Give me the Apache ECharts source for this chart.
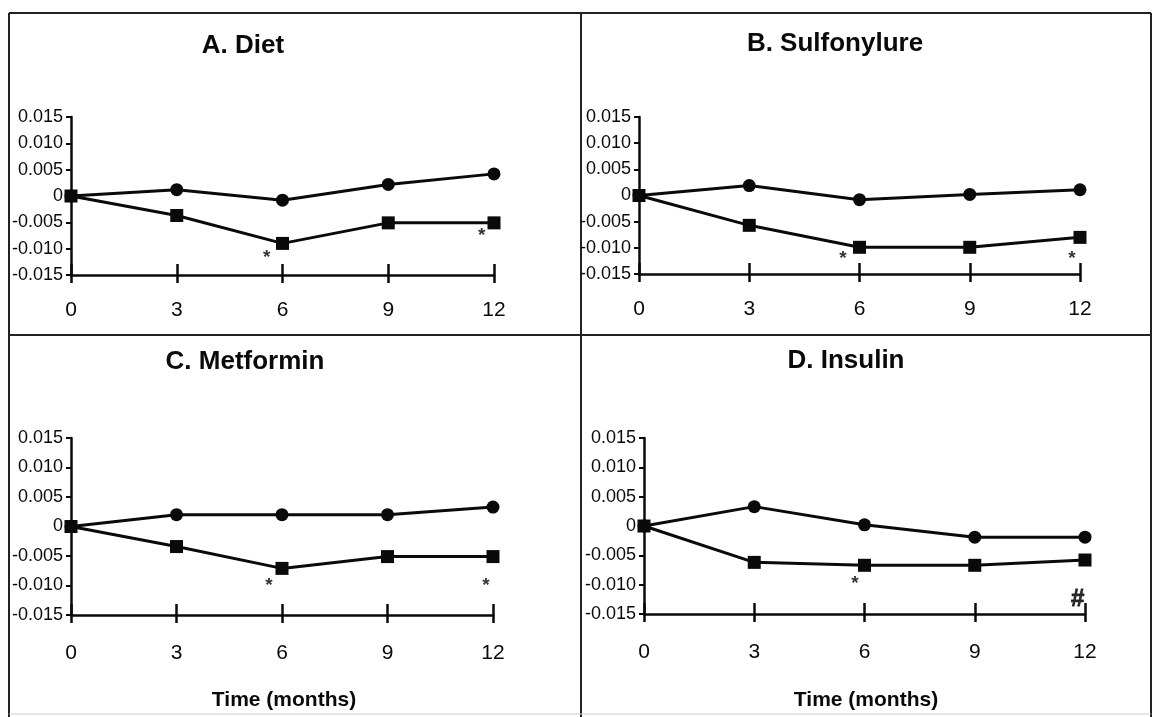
<!DOCTYPE html>
<html>
<head>
<meta charset="utf-8">
<script src="https://cdn.jsdelivr.net/npm/echarts@6/dist/echarts.min.js"></script>
<style>
html,body{margin:0;padding:0;background:#fff;}
#chart{width:1153px;height:717px;}
</style>
</head>
<body>
<div id="chart"></div>
<script>
// ---- data ----
const months = [0, 3, 6, 9, 12];
const xTickLabels = ['0', '3', '6', '9', '12'];
const yTickValues = [-0.015, -0.010, -0.005, 0, 0.005, 0.010, 0.015];
const yTickLabels = ['-0.015', '-0.010', '-0.005', '0', '0.005', '0.010', '0.015'];
const panelTitles = ['A. Diet', 'B. Sulfonylure', 'C. Metformin', 'D. Insulin'];
const xAxisTitle = 'Time (months)';

const dietCircle = [0, 0.0012, -0.0008, 0.0022, 0.0042];
const dietSquare = [0, -0.0037, -0.0090, -0.0051, -0.0051];
const sulfCircle = [0, 0.0019, -0.0008, 0.0002, 0.0011];
const sulfSquare = [0, -0.0057, -0.0099, -0.0099, -0.0080];
const metCircle = [0, 0.0020, 0.0020, 0.0020, 0.0033];
const metSquare = [0, -0.0034, -0.0071, -0.0051, -0.0051];
const insCircle = [0, 0.0033, 0.0002, -0.0019, -0.0019];
const insSquare = [0, -0.0062, -0.0067, -0.0067, -0.0058];

// annotations: [month, value, mark]
const notesA = [[5.55, -0.0118, '*'], [11.65, -0.0076, '*']];
const notesB = [[5.55, -0.0120, '*'], [11.78, -0.0120, '*']];
const notesC = [[5.63, -0.0100, '*'], [11.8, -0.0100, '*']];
const notesD = [[5.74, -0.0099, '*'], [11.8, -0.0125, '#']];

const circles = [dietCircle, sulfCircle, metCircle, insCircle];
const squares = [dietSquare, sulfSquare, metSquare, insSquare];
const notes = [notesA, notesB, notesC, notesD];

// ---- layout ----
const INK = '#0a0a0a';
const FONT = 'Liberation Sans, Arial, Helvetica, sans-serif';
const grids = [
  {left: 71, top: 117, width: 423, height: 158},
  {left: 639, top: 117, width: 441, height: 157},
  {left: 71, top: 438, width: 422, height: 177},
  {left: 644, top: 438, width: 441, height: 176}
];
const xLabelMargin = [25, 25, 28, 28];
const titlePos = [
  {left: 238, top: 28}, {left: 830, top: 26},
  {left: 240, top: 344}, {left: 841, top: 343}
];

const chart = echarts.init(document.getElementById('chart'), null, {renderer: 'canvas'});

const xAxes = [], yAxes = [], series = [], titles = [];
grids.forEach((g, i) => {
  const common = {
    type: 'value', gridIndex: i, min: 0, max: 12, interval: 3,
    splitLine: {show: false}
  };
  xAxes.push(Object.assign({}, common, {
    position: 'bottom',
    axisLine: {show: true, onZero: false, lineStyle: {color: INK, width: 2.5}},
    axisTick: {show: true, inside: true, length: 11, lineStyle: {color: INK, width: 2.5}},
    axisLabel: {
      show: true, margin: xLabelMargin[i], color: INK, fontSize: 21, fontFamily: FONT,
      formatter: v => xTickLabels[months.indexOf(v)]
    }
  }));
  xAxes.push(Object.assign({}, common, {
    position: 'bottom',
    axisLine: {show: false, onZero: false},
    axisTick: {show: true, inside: false, length: 8, lineStyle: {color: INK, width: 2.5}},
    axisLabel: {show: false}
  }));
  yAxes.push({
    type: 'value', gridIndex: i, min: -0.015, max: 0.015, interval: 0.005,
    splitLine: {show: false},
    axisLine: {show: true, onZero: false, lineStyle: {color: INK, width: 2.5}},
    axisTick: {show: true, inside: false, length: 5, lineStyle: {color: INK, width: 2}},
    axisLabel: {
      margin: 8, color: INK, fontSize: 18, fontFamily: FONT,
      formatter: v => {
        let k = 0, best = 1;
        yTickValues.forEach((t, j) => { if (Math.abs(t - v) < best) { best = Math.abs(t - v); k = j; } });
        return yTickLabels[k];
      }
    }
  });
  titles.push({
    text: panelTitles[i], left: titlePos[i].left, top: titlePos[i].top, textAlign: 'center',
    textStyle: {color: INK, fontSize: 26, fontWeight: 'bold', fontFamily: FONT}
  });
  const xi = i * 2;
  series.push({
    type: 'line', xAxisIndex: xi, yAxisIndex: i, clip: false,
    data: months.map((m, j) => [m, circles[i][j]]),
    symbol: 'circle', symbolSize: 13, showAllSymbol: true,
    lineStyle: {color: INK, width: 3}, itemStyle: {color: INK}, z: 3
  });
  series.push({
    type: 'line', xAxisIndex: xi, yAxisIndex: i, clip: false,
    data: months.map((m, j) => [m, squares[i][j]]),
    symbol: 'rect', symbolSize: 13, showAllSymbol: true,
    lineStyle: {color: INK, width: 3}, itemStyle: {color: INK}, z: 4
  });
  series.push({
    type: 'scatter', xAxisIndex: xi, yAxisIndex: i, clip: false,
    symbolSize: 1, itemStyle: {color: 'rgba(0,0,0,0)'},
    data: notes[i].map(n => ({
      value: [n[0], n[1]], name: n[2],
      label: n[2] === '#'
        ? {show: true, fontSize: 24, fontWeight: 'bold', color: '#000', fontFamily: FONT, textBorderColor: '#000', textBorderWidth: 0.8}
        : undefined
    })),
    label: {
      show: true, position: 'inside', formatter: p => p.name,
      color: '#000', fontFamily: FONT, fontSize: 19, fontWeight: 'bold'
    },
    z: 5
  });
});

titles.push({text: xAxisTitle, left: 279, top: 685, textAlign: 'center',
  textStyle: {color: INK, fontSize: 21, fontWeight: 'bold', fontFamily: FONT}});
titles.push({text: xAxisTitle, left: 861, top: 685, textAlign: 'center',
  textStyle: {color: INK, fontSize: 21, fontWeight: 'bold', fontFamily: FONT}});

const frame = {stroke: '#222', lineWidth: 2};
chart.setOption({
  backgroundColor: '#fff',
  animation: false,
  title: titles,
  grid: grids,
  xAxis: xAxes,
  yAxis: yAxes,
  series: series,
  graphic: [
    {type: 'line', shape: {x1: 9, y1: 13, x2: 1151, y2: 13}, style: frame, silent: true},
    {type: 'line', shape: {x1: 9, y1: 13, x2: 9, y2: 717}, style: frame, silent: true},
    {type: 'line', shape: {x1: 1151, y1: 13, x2: 1151, y2: 717}, style: frame, silent: true},
    {type: 'line', shape: {x1: 581, y1: 13, x2: 581, y2: 717}, style: frame, silent: true},
    {type: 'line', shape: {x1: 9, y1: 335, x2: 1151, y2: 335}, style: frame, silent: true},
    {type: 'line', shape: {x1: 9, y1: 714, x2: 1151, y2: 714}, style: {stroke: '#ccc', lineWidth: 1}, silent: true}
  ]
});
</script>
</body>
</html>
